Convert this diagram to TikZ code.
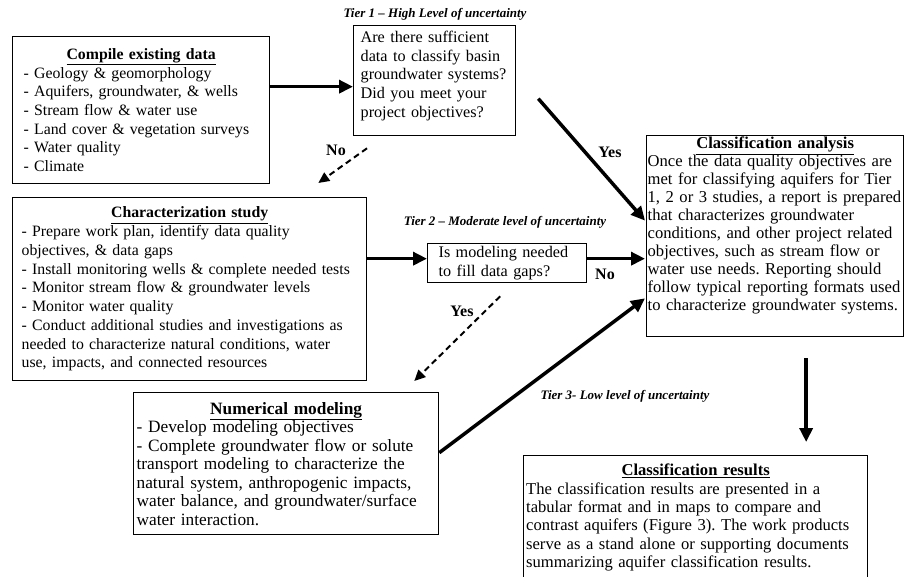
\documentclass[tikz,border=0pt]{standalone}
\usepackage{fontspec}
\setmainfont{Liberation Serif}
\usetikzlibrary{calc,arrows.meta}

\newcommand{\boxtitle}[1]{\makebox[\linewidth]{\bfseries\underline{#1}}}
\hyphenpenalty=10000
\exhyphenpenalty=10000
\frenchspacing

\begin{document}
\begin{tikzpicture}[x=1pt,y=-1pt,
  info box/.style={draw,line width=1.3pt,anchor=north west,align=left,inner ysep=0pt,
    font=\fontsize{15.8}{18.6}\selectfont},
  wide box/.style={info box,font=\fontsize{17.3}{18.5}\selectfont},
  tier label/.style={font=\fontsize{13}{15}\selectfont\bfseries\itshape},
  answer label/.style={font=\fontsize{16}{18}\selectfont\bfseries},
  main arrow/.style={line width=3.5pt,-{Triangle[length=14pt,width=13pt]}},
  dashed arrow/.style={line width=2pt,dash pattern=on 6pt off 4pt,-{Triangle[length=11pt,width=10pt]}}]

  \useasboundingbox (0,0) rectangle (905,576);

  % boxes
  \node[info box,minimum width=257pt,minimum height=147pt,inner xsep=11pt,text width=235pt]
    (compile) at (12,36) {\boxtitle{Compile existing data}\\
    - Geology \& geomorphology\\
    - Aquifers, groundwater, \& wells\\
    - Stream flow \& water use\\
    - Land cover \& vegetation surveys\\
    - Water quality\\
    - Climate};
  \node[info box,font=\fontsize{16.2}{18.8}\selectfont,minimum width=162pt,minimum height=110pt,
    inner xsep=7pt,text width=148pt]
    (sufficient) at (353,25) {Are there sufficient\\
    data to classify basin\\
    groundwater systems?\\
    Did you meet your\\
    project objectives?\rule[-13pt]{0pt}{0pt}};
  \node[info box,font=\fontsize{16.6}{17.9}\selectfont,minimum width=257pt,minimum height=201pt,
    inner xsep=1pt,text width=255pt]
    (analysis) at (646,135) {\boxtitle{Classification analysis}\\
    Once the data quality objectives are\\
    met for classifying aquifers for Tier\\
    1, 2 or 3 studies, a report is prepared\\
    that characterizes groundwater\\
    conditions, and other project related\\
    objectives, such as stream flow or\\
    water use needs. Reporting should\\
    follow typical reporting formats used\\
    to characterize groundwater systems.\rule[-25pt]{0pt}{0pt}};
  \node[info box,font=\fontsize{15.8}{18.75}\selectfont,minimum width=354pt,minimum height=183pt,
    inner xsep=9pt,text width=336pt]
    (charstudy) at (12,197) {\boxtitle{Characterization study}\\
    - Prepare work plan, identify data quality\\
    objectives, \& data gaps\\
    - Install monitoring wells \& complete needed tests\\
    - Monitor stream flow \& groundwater levels\\
    - Monitor water quality\\
    - Conduct additional studies and investigations as\\
    needed to characterize natural conditions, water\\
    use, impacts, and connected resources};
  \node[info box,font=\fontsize{16.2}{18.8}\selectfont,minimum width=159pt,minimum height=39pt,
    inner xsep=11pt,text width=137pt]
    (modelq) at (427,243) {Is modeling needed\\
    to fill data gaps?};
  \node[wide box,minimum width=305pt,minimum height=142pt,inner xsep=3pt,text width=299pt]
    (nummodel) at (133,392) {\boxtitle{Numerical modeling}\\
    - Develop modeling objectives\\
    - Complete groundwater flow or solute\\
    transport modeling to characterize the\\
    natural system, anthropogenic impacts,\\
    water balance, and groundwater/surface\\
    water interaction.};
  \node[wide box,font=\fontsize{16.6}{18.3}\selectfont,minimum width=344pt,minimum height=124pt,
    inner xsep=2.5pt,text width=339pt]
    (results) at (523,455) {\boxtitle{Classification results}\\
    The classification results are presented in a\\
    tabular format and in maps to compare and\\
    contrast aquifers (Figure 3). The work products\\
    serve as a stand alone or supporting documents\\
    summarizing aquifer classification results.};

  % tier labels
  \node[tier label] (tierone) at (435,14) {Tier 1 -- High Level of uncertainty};
  \node[tier label] (tiertwo) at (505,222) {Tier 2 -- Moderate level of uncertainty};
  \node[tier label] (tierthree) at (625,396) {Tier 3- Low level of uncertainty};

  % answers
  \node[answer label] (noone) at (336,150) {No};
  \node[answer label] (yesone) at (610,152) {Yes};
  \node[answer label] (notwo) at (605,274) {No};
  \node[answer label] (yestwo) at (462,311) {Yes};

  % connectors
  \draw[main arrow] ($(compile.east)+(0,-23.5)$) -- ($(sufficient.west)+(0,6)$);
  \draw[main arrow] ($(sufficient.east)+(22,18)$) -- ($(analysis.west)+(-1,-15.5)$);
  \draw[dashed arrow] ($(sufficient.south west)+(14,12)$) -- ($(charstudy.north east)+(-49,-14)$);
  \draw[main arrow] ($(charstudy.east)+(0,-30.5)$) -- ($(modelq.west)+(0,-4.5)$);
  \draw[main arrow] ($(modelq.east)+(0,-4.5)$) -- ($(analysis.west)+(-1,22.5)$);
  \draw[dashed arrow] ($(modelq.south)+(-7,13)$) -- ($(nummodel.north east)+(-25,-11)$);
  \draw[main arrow] ($(nummodel.east)+(0,-11)$) -- ($(analysis.south west)+(-1,-39)$);
  \draw[main arrow] ($(analysis.south)+(31,21)$) -- ($(results.north)+(110.5,-13)$);
\end{tikzpicture}
\end{document}
